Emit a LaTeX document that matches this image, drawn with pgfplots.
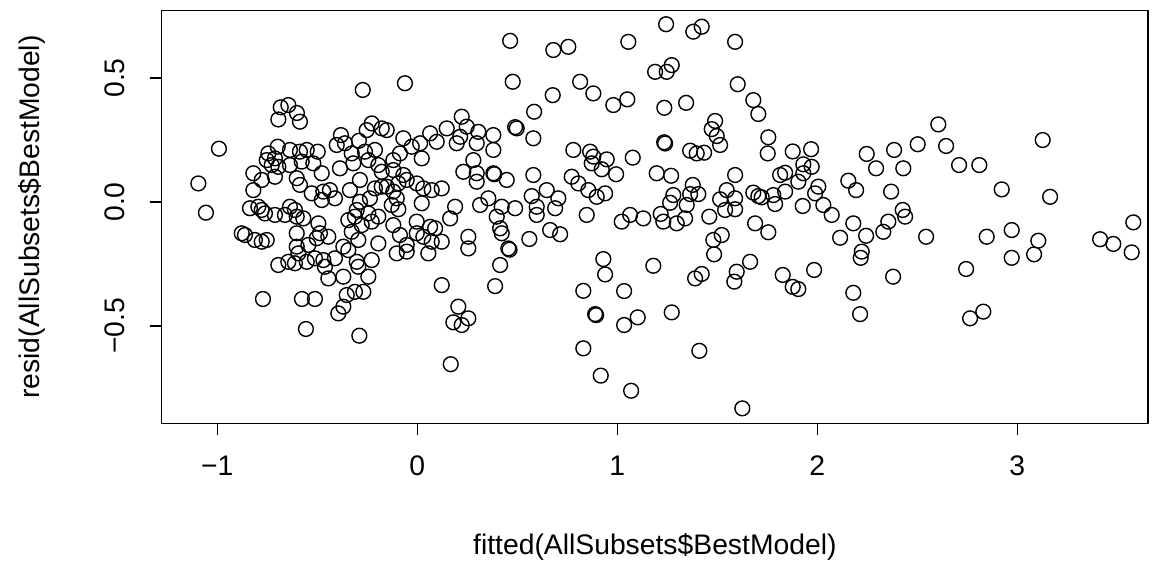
\documentclass[border=0pt]{standalone}
\usepackage{fontspec}
\setmainfont{Liberation Sans}
\usepackage{pgfplots}
\pgfplotsset{compat=1.18}
\usepackage{pgfplotstable}

\pgfplotstableread{
x y
-0.273 0.452
-0.062 0.479
-0.645 0.391
-0.683 0.382
-0.992 0.215
-1.095 0.075
-1.057 -0.043
-0.602 0.359
-0.695 0.333
-0.587 0.324
-0.382 0.270
-0.403 0.230
-0.362 0.237
-0.292 0.247
-0.228 0.317
-0.253 0.290
-0.178 0.297
-0.698 0.223
-0.745 0.196
-0.753 0.169
-0.637 0.210
-0.587 0.203
-0.553 0.210
-0.498 0.203
-0.712 0.176
-0.728 0.149
-0.695 0.142
-0.578 0.163
-0.520 0.156
-0.637 0.149
-0.328 0.196
-0.262 0.203
-0.212 0.210
-0.320 0.156
-0.387 0.136
-0.245 0.169
-0.195 0.149
-0.178 0.122
-0.820 0.116
-0.778 0.089
-0.712 0.102
-0.603 0.096
-0.587 0.069
-0.478 0.116
-0.820 0.048
-0.528 0.035
-0.470 0.042
-0.437 0.048
-0.412 0.015
-0.478 0.008
-0.287 0.089
-0.337 0.048
-0.212 0.055
-0.178 0.062
-0.237 0.015
-0.287 0.001
-0.303 -0.032
-0.837 -0.025
-0.795 -0.019
-0.778 -0.032
-0.762 -0.046
-0.712 -0.052
-0.662 -0.052
-0.637 -0.019
-0.612 -0.032
-0.603 -0.059
-0.570 -0.066
-0.495 -0.086
-0.345 -0.073
-0.312 -0.059
-0.245 -0.046
-0.228 -0.079
-0.195 -0.059
-0.278 -0.093
-0.603 -0.126
-0.487 -0.126
-0.503 -0.146
-0.445 -0.140
-0.328 -0.120
-0.295 -0.153
-0.195 -0.167
-0.878 -0.126
-0.862 -0.133
-0.812 -0.153
-0.778 -0.160
-0.753 -0.153
-0.603 -0.180
-0.545 -0.173
-0.370 -0.180
-0.595 -0.207
-0.645 -0.241
-0.612 -0.247
-0.695 -0.254
-0.553 -0.241
-0.512 -0.227
-0.470 -0.234
-0.462 -0.261
-0.412 -0.227
-0.345 -0.194
-0.303 -0.241
-0.295 -0.261
-0.228 -0.234
-0.445 -0.308
-0.370 -0.301
-0.245 -0.301
-0.312 -0.362
-0.270 -0.362
-0.353 -0.375
-0.772 -0.391
-0.577 -0.391
-0.512 -0.391
-0.370 -0.422
-0.395 -0.449
-0.557 -0.512
-0.290 -0.539
0.222 0.344
0.247 0.304
0.147 0.297
0.064 0.277
0.097 0.243
-0.153 0.290
-0.070 0.257
-0.028 0.223
0.014 0.237
0.197 0.237
0.214 0.263
0.305 0.283
0.297 0.237
0.380 0.270
0.380 0.210
0.497 0.297
0.489 0.302
0.022 0.176
-0.087 0.196
-0.120 0.169
-0.120 0.129
-0.070 0.109
-0.053 0.089
-0.095 0.075
-0.153 0.062
-0.003 0.075
0.030 0.055
0.072 0.048
0.122 0.055
-0.120 0.042
-0.103 0.015
0.022 -0.005
-0.128 -0.012
-0.095 -0.029
0.280 0.169
0.230 0.122
0.297 0.116
0.297 0.082
0.380 0.116
0.385 0.112
0.447 0.089
0.189 -0.019
0.164 -0.066
0.314 -0.012
0.355 0.015
0.422 -0.019
0.489 -0.025
0.397 -0.059
-0.120 -0.093
-0.003 -0.079
0.064 -0.100
0.089 -0.106
-0.087 -0.133
-0.003 -0.126
0.030 -0.140
0.072 -0.160
0.122 -0.160
-0.053 -0.173
-0.103 -0.207
-0.053 -0.200
0.055 -0.207
0.255 -0.140
0.255 -0.187
0.414 -0.106
0.422 -0.126
0.455 -0.187
0.461 -0.192
0.414 -0.254
0.122 -0.335
0.389 -0.339
0.464 0.650
0.680 0.613
0.755 0.626
1.055 0.646
0.477 0.485
0.814 0.485
0.880 0.438
0.677 0.431
0.980 0.391
1.050 0.414
0.584 0.364
0.580 0.257
0.780 0.210
0.864 0.203
0.880 0.183
0.872 0.156
0.947 0.172
0.922 0.132
0.994 0.112
1.077 0.179
0.580 0.109
0.772 0.102
0.805 0.075
0.855 0.048
0.897 0.021
0.939 0.035
0.647 0.048
0.705 0.015
0.572 0.024
0.597 -0.019
0.597 -0.052
0.689 -0.025
0.847 -0.052
1.064 -0.052
1.022 -0.079
1.130 -0.066
0.664 -0.113
0.714 -0.130
0.560 -0.149
0.205 -0.422
0.180 -0.485
0.255 -0.469
0.222 -0.496
0.167 -0.654
0.930 -0.230
0.939 -0.292
0.830 -0.358
1.034 -0.359
0.889 -0.452
0.894 -0.456
1.102 -0.465
1.034 -0.496
0.830 -0.590
0.917 -0.700
1.069 -0.761
1.244 0.717
1.380 0.687
1.422 0.707
1.589 0.646
1.189 0.525
1.272 0.552
1.247 0.525
1.602 0.475
1.680 0.411
1.705 0.355
1.235 0.380
1.344 0.400
1.489 0.327
1.472 0.294
1.497 0.266
1.514 0.230
1.234 0.241
1.239 0.236
1.364 0.207
1.397 0.196
1.434 0.199
1.755 0.261
1.752 0.196
1.877 0.204
1.969 0.213
2.247 0.194
2.384 0.210
2.294 0.136
1.197 0.116
1.269 0.106
1.589 0.109
1.814 0.109
1.839 0.118
1.930 0.152
1.972 0.142
1.930 0.116
1.905 0.082
2.155 0.086
2.194 0.048
2.369 0.042
1.377 0.069
1.364 0.032
1.405 0.032
1.280 0.028
1.264 -0.003
1.347 -0.012
1.547 0.048
1.514 0.011
1.589 0.015
1.539 -0.032
1.589 -0.029
1.680 0.038
1.705 0.024
1.722 0.019
1.780 0.028
1.789 -0.008
1.839 0.042
1.927 -0.016
2.005 0.062
1.989 0.035
2.030 -0.012
2.072 -0.052
1.460 -0.059
1.339 -0.066
1.217 -0.048
1.230 -0.079
1.297 -0.086
1.689 -0.086
2.180 -0.086
2.355 -0.079
2.330 -0.120
2.244 -0.136
2.114 -0.144
1.755 -0.122
1.522 -0.133
1.480 -0.153
1.484 -0.211
1.180 -0.257
1.389 -0.308
1.422 -0.290
1.597 -0.281
1.585 -0.321
1.664 -0.241
1.827 -0.294
1.877 -0.342
1.905 -0.351
1.984 -0.274
2.222 -0.200
2.217 -0.225
2.180 -0.366
2.214 -0.452
2.379 -0.301
1.272 -0.445
1.410 -0.600
1.625 -0.832
2.605 0.313
2.502 0.233
2.644 0.226
3.127 0.250
2.430 0.136
2.709 0.149
2.810 0.149
2.922 0.051
3.164 0.021
2.427 -0.032
2.439 -0.059
3.580 -0.082
2.544 -0.140
2.847 -0.140
2.972 -0.113
3.105 -0.156
3.084 -0.211
2.972 -0.225
2.744 -0.270
3.414 -0.150
3.480 -0.169
3.572 -0.203
2.830 -0.442
2.764 -0.469
}\resid

\begin{document}
\begin{tikzpicture}
\useasboundingbox (-80.85pt,-75.85pt) rectangle (499.65pt,211.65pt);
\begin{axis}[
  at={(0,0)}, anchor=south west,
  scale only axis, width=493.15pt, height=206.3pt,
  xmin=-1.2782, xmax=3.6535, ymin=-0.8923, ymax=0.7714,
  axis line style={line width=0.65pt, black},
  xtick={-1,0,1,2,3}, xticklabels={−1,0,1,2,3},
  ytick={-0.5,0,0.5}, yticklabels={−0.5,0.0,0.5},
  xtick pos=bottom, ytick pos=left,
  tick align=outside, major tick length=6pt,
  tick style={line width=0.65pt, black},
  /pgf/number format/assume math mode=true,
  every tick label/.append style={font=\fontsize{14.15pt}{17pt}\selectfont},
  xticklabel style={anchor=base},
  xticklabel shift=19.85pt,
  yticklabel style={rotate=90, anchor=base},
  yticklabel shift=12.35pt,
  xlabel={fitted(AllSubsets\$BestModel)},
  ylabel={resid(AllSubsets\$BestModel)},
  every axis x label/.style={at={(axis description cs:0.5,0)}, yshift=-65.35pt, anchor=base, font=\fontsize{14.15pt}{17pt}\selectfont},
  every axis y label/.style={at={(axis description cs:0,0.5)}, xshift=-61.15pt, rotate=90, anchor=base, font=\fontsize{14.15pt}{17pt}\selectfont},
]
\addplot[only marks, mark=o, mark size=3.7pt, mark options={line width=0.7pt, black}] table[x=x, y=y] {\resid};
\end{axis}
\end{tikzpicture}
\end{document}
